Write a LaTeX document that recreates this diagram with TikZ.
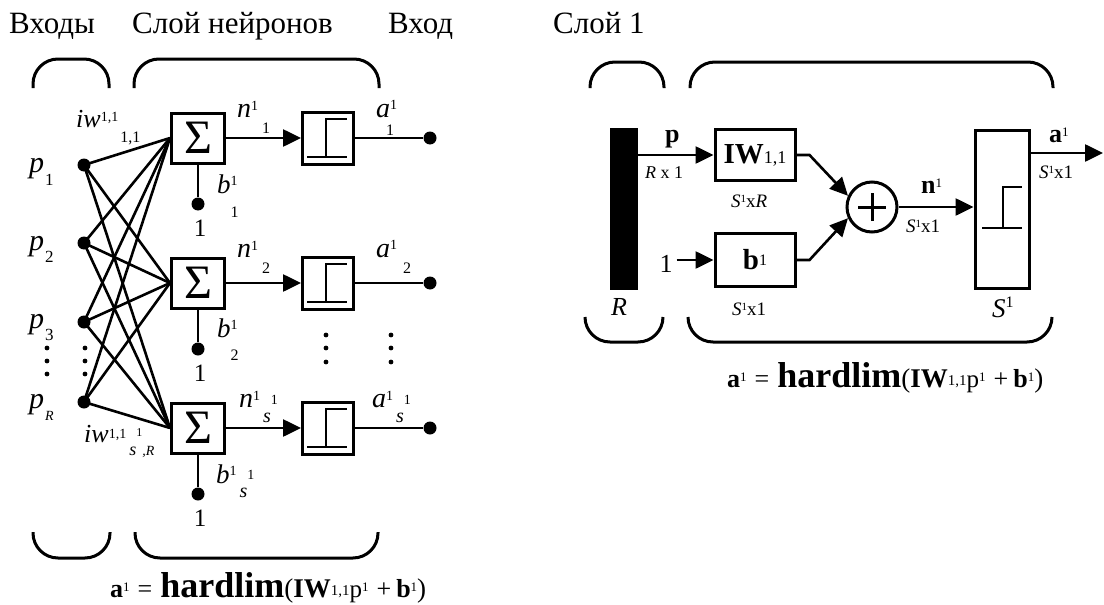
\documentclass[tikz,border=0pt]{standalone}
\usepackage{fontspec}
\setmainfont{Liberation Serif}
\usetikzlibrary{arrows.meta,positioning,calc}
\newcommand\fs[1]{\fontsize{#1}{#1}\selectfont}
\newcommand\hardlimeq{{\fs{26}\bfseries a}\raisebox{6pt}{\fs{13}1}\kern8pt{\fs{26}=}\kern8pt{\fs{36}\bfseries hardlim}{\fs{27}(}{\fs{27}\bfseries IW}\raisebox{2pt}{\fs{15}1,1}{\fs{25}p}\raisebox{6pt}{\fs{13}1}\kern8pt{\fs{26}+}\kern5pt{\fs{26}\bfseries b}\raisebox{6pt}{\fs{13}1}{\fs{27})}}
\tikzset{
  wire/.style={line width=2.6pt},
  flow/.style={wire, -{Triangle[length=18pt,width=17pt]}},
  sumbox/.style={draw, line width=3pt, minimum width=53pt, minimum height=50pt, inner sep=0pt, font=\fs{48}},
  stepbox/.style={draw, line width=3pt, minimum width=51pt, minimum height=52pt, inner sep=0pt},
  wbox/.style={draw, line width=3pt, minimum width=80pt, minimum height=51pt, inner sep=0pt},
  dot/.style={circle, fill, inner sep=0pt, minimum size=13pt},
  lab/.style={inner sep=0pt, anchor=base west},
  brace/.style={line width=3pt, rounded corners=25pt},
  stepline/.style={line width=2.5pt}
}
\begin{document}
\begin{tikzpicture}[x=1pt,y=-1pt]
  \useasboundingbox (0,0) rectangle (1104,605);
  % titles
  \node[lab, font=\fs{31}] (hInputs) at (9,34) {Входы};
  \node[lab, font=\fs{31}] (hNeurons) at (132,34) {Слой нейронов};
  \node[lab, font=\fs{31}] (hInput) at (388,34) {Вход};
  \node[lab, font=\fs{31}] (hLayer) at (553,34) {Слой 1};

  % brackets, left network
  \draw[brace] (33,88) -- (33,59) -- (109,59) -- (109,88);
  \draw[brace] (134,88) -- (134,59) -- (379,59) -- (379,88);
  \draw[brace] (33,532) -- (33,558) -- (110,558) -- (110,532);
  \draw[brace] (135,532) -- (135,558) -- (378,558) -- (378,532);

  % inputs
  \foreach \i/\y in {1/165,2/243,3/322,R/402}
    \node[dot] (p\i) at (84,\y) {};
  \foreach \y in {348,361,374} {
    \fill (47,\y) circle (2.4pt);
    \fill (85,\y) circle (2.4pt);
  }

  % neurons
  \foreach \j/\y in {1/138,2/283,3/428} {
    \node[sumbox] (s\j) at (198,\y) {Σ};
    \node[stepbox] (t\j) at (328,\y) {};
    \node[dot] (c\j) at (198,\y+66) {};
    \node[lab, anchor=base, font=\fs{25}] (one\j) at (200,\y+98) {1};
    \node[dot] (o\j) at (430,\y) {};
    \draw[wire] (s\j) -- (c\j);
    \draw[flow] (s\j) -- (t\j);
    \draw[wire] (t\j) -- (o\j);
    \draw[stepline] ([shift={(-21,19)}]t\j.center) -- ([shift={(19,19)}]t\j.center)
      ([shift={(-2,19)}]t\j.center) -- ([shift={(-2,-19)}]t\j.center) -- ([shift={(19,-19)}]t\j.center);
  }
  \foreach \i in {1,2,3,R}
    \foreach \j in {1,2,3}
      \draw[wire] (p\i.center) -- (s\j.west);
  \foreach \y in {335,348,362} {
    \fill (326,\y) circle (2.4pt);
    \fill (391,\y) circle (2.4pt);
  }

  % labels, left network
  \node[lab, font=\fs{30}\itshape] (lp1) at (29,172) {p\kern1pt\raisebox{-13pt}{\fs{17}\upshape 1}};
  \node[lab, font=\fs{30}\itshape] (lp2) at (29,250) {p\kern1pt\raisebox{-12pt}{\fs{17}\upshape 2}};
  \node[lab, font=\fs{30}\itshape] (lp3) at (29,328) {p\kern1pt\raisebox{-12pt}{\fs{17}\upshape 3}};
  \node[lab, font=\fs{30}\itshape] (lpR) at (29,408) {p\kern1pt\raisebox{-12pt}{\fs{14}R}};
  \node[lab, font=\fs{26}\itshape] (lw1) at (76,127) {iw\raisebox{6pt}{\fs{14}\upshape 1,1}\kern2pt\raisebox{-15pt}{\fs{16}\upshape 1,1}};
  \node[lab, font=\fs{26}\itshape] (lwR) at (84,442) {iw\raisebox{4pt}{\fs{14}\upshape 1,1}\kern3pt\raisebox{-13pt}{\fs{18}s}\raisebox{6pt}{\fs{12}\upshape 1}\raisebox{-13pt}{\fs{14},R}};
  \node[lab, font=\fs{28}\itshape] (ln1) at (237,117) {n\raisebox{7pt}{\fs{14}\upshape 1}\kern4pt\raisebox{-16pt}{\fs{16}\upshape 1}};
  \node[lab, font=\fs{28}\itshape] (ln2) at (237,257) {n\raisebox{7pt}{\fs{14}\upshape 1}\kern4pt\raisebox{-16pt}{\fs{16}\upshape 2}};
  \node[lab, font=\fs{28}\itshape] (ln3) at (239,407) {n\raisebox{7pt}{\fs{14}\upshape 1}\kern3pt\raisebox{-15pt}{\fs{20}s}\raisebox{3pt}{\fs{14}\upshape 1}};
  \node[lab, font=\fs{28}\itshape] (la1) at (376,117) {a\raisebox{8pt}{\fs{14}\upshape 1}\kern-11pt\raisebox{-18pt}{\fs{16}\upshape 1}};
  \node[lab, font=\fs{28}\itshape] (la2) at (376,257) {a\raisebox{8pt}{\fs{14}\upshape 1}\kern6pt\raisebox{-16pt}{\fs{16}\upshape 2}};
  \node[lab, font=\fs{28}\itshape] (la3) at (372,407) {a\raisebox{7pt}{\fs{14}\upshape 1}\kern3pt\raisebox{-15pt}{\fs{20}s}\raisebox{3pt}{\fs{14}\upshape 1}};
  \node[lab, font=\fs{27}\itshape] (lb1) at (217,193) {b\raisebox{8pt}{\fs{14}\upshape 1}\kern-7pt\raisebox{-24pt}{\fs{16}\upshape 1}};
  \node[lab, font=\fs{27}\itshape] (lb2) at (217,337) {b\raisebox{8pt}{\fs{14}\upshape 1}\kern-7pt\raisebox{-23pt}{\fs{16}\upshape 2}};
  \node[lab, font=\fs{27}\itshape] (lb3) at (216,483) {b\raisebox{8pt}{\fs{14}\upshape 1}\kern3pt\raisebox{-14pt}{\fs{20}s}\raisebox{4pt}{\fs{14}\upshape 1}};
  \node[lab] (eqL) at (110,597) {\hardlimeq};

  % brackets, layer diagram
  \draw[brace] (590,88) -- (590,62) -- (664,62) -- (664,88);
  \draw[brace] (690,88) -- (690,62) -- (1053,62) -- (1053,88);
  \draw[brace] (585,317) -- (585,342) -- (663,342) -- (663,317);
  \draw[brace] (688,317) -- (688,342) -- (1052,342) -- (1052,317);

  % layer diagram
  \node[fill, minimum width=28pt, minimum height=162pt, inner sep=0pt] (bar) at (624,209) {};
  \node[wbox] (IW) at (755,155) {{\fs{29}\bfseries IW}{\fs{18}1,1}};
  \node[wbox, minimum height=53pt] (b) at (755,260) {{\fs{29}\bfseries b}\raisebox{4pt}{\fs{16}1}};
  \node[lab, anchor=base, font=\fs{26}] (one) at (666,272) {1};
  \node[circle, draw, line width=3pt, minimum size=50pt, inner sep=0pt] (sum) at (872,207) {};
  \draw[line width=3pt] ([xshift=-14pt]sum.center) -- ([xshift=14pt]sum.center)
    ([yshift=-14pt]sum.center) -- ([yshift=14pt]sum.center);
  \node[draw, line width=3pt, minimum width=54pt, minimum height=158pt, inner sep=0pt] (T) at (1002,209) {};
  \draw[stepline] ([shift={(-20,19)}]T.center) -- ([shift={(20,19)}]T.center)
    ([shift={(1,19)}]T.center) -- ([shift={(1,-22)}]T.center) -- ([shift={(20,-22)}]T.center);
  \coordinate (out) at (1103,153);

  \draw[flow] (bar.east |- IW.west) -- (IW.west);
  \draw[flow] ([xshift=4pt]one.east |- b.west) -- (b.west);
  \draw[flow] (IW.east) -- ++(13,0) -- (sum.155);
  \draw[flow] (b.east) -- ++(13,0) -- (sum.205);
  \draw[flow] (sum.east) -- (T.west |- sum.east);
  \draw[flow] (T.east |- out) -- (out);

  \node[lab, font=\fs{26}\bfseries] (lp) at (665,142) {p};
  \node[lab, font=\fs{18}] (lRx1) at (645,178) {\textit{R} x 1};
  \node[lab, font=\fs{19}] (lSxR) at (731,207) {\textit{S}\raisebox{5pt}{\fs{11}1}x\textit{R}};
  \node[lab, font=\fs{19}] (lSx1b) at (732,315) {\textit{S}\raisebox{5pt}{\fs{11}1}x1};
  \node[lab, font=\fs{26}\itshape] (lR) at (611,315) {R};
  \node[lab, font=\fs{26}\bfseries] (ln) at (921,193) {n\raisebox{6pt}{\fs{13}\mdseries 1}};
  \node[lab, font=\fs{19}] (lSx1n) at (906,232) {\textit{S}\raisebox{5pt}{\fs{11}1}x1};
  \node[lab, font=\fs{26}\bfseries] (la) at (1049,142) {a\raisebox{6pt}{\fs{13}\mdseries 1}};
  \node[lab, font=\fs{19}] (lSx1a) at (1039,178) {\textit{S}\raisebox{5pt}{\fs{11}1}x1};
  \node[lab, font=\fs{27}] (lS) at (992,317) {\textit{S}\raisebox{10pt}{\fs{16}1}};
  \node[lab] (eqR) at (727,387) {\hardlimeq};
\end{tikzpicture}
\end{document}
